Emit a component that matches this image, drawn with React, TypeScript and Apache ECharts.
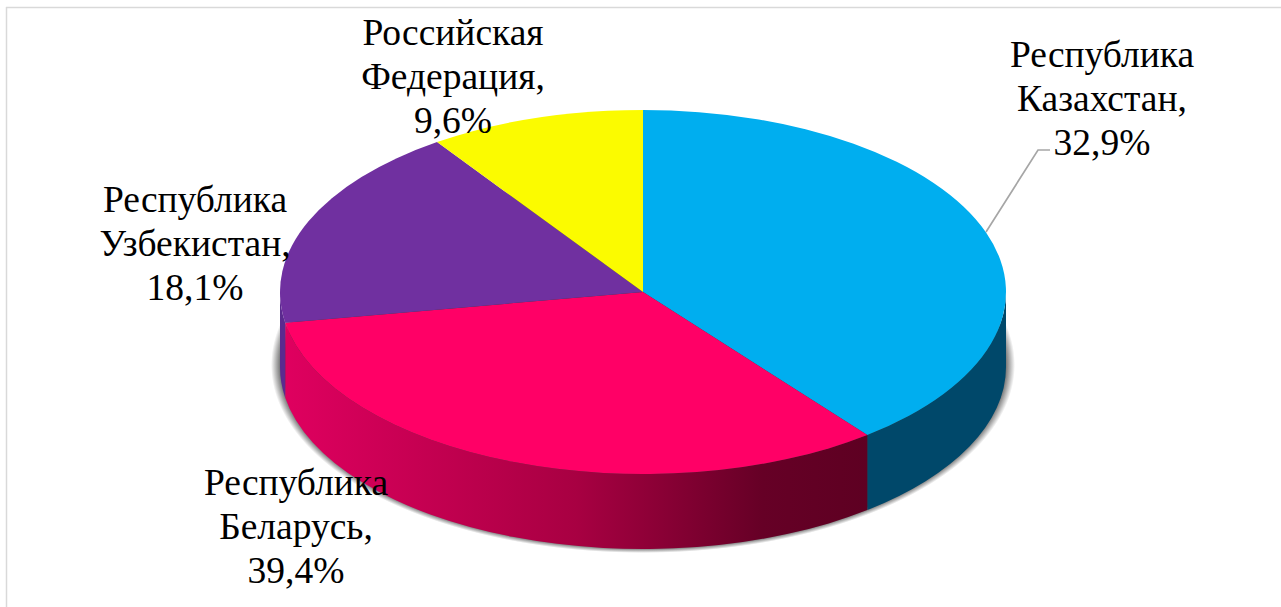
import React, { useEffect, useRef } from "react";
import * as echarts from "echarts";

// Drawn shares of the slices, clockwise from 12 o'clock
const sliceNames = ["Казахстан", "Беларусь", "Узбекистан", "Россия"];
const sliceShares = [39.4, 32.9, 18.1, 9.6];
const sliceColors = ["#00aeef", "#ff0066", "#7030a0", "#fbfb00"];
// Label texts exactly as printed in the picture
const labelTexts = [
  "Республика\nКазахстан,\n32,9%",
  "Республика\nБеларусь,\n39,4%",
  "Республика\nУзбекистан,\n18,1%",
  "Российская\nФедерация,\n9,6%",
];
const labelCenters = [
  [1102, 32],
  [296, 460],
  [195, 177],
  [453, 10],
];

const CX = 643;
const CY = 292;
const RX = 363;
const RY = 182;
const DEPTH = 75;
const TOTAL = sliceShares.reduce((a, b) => a + b, 0);

const pt = (deg: number, dy = 0) => {
  const r = (deg * Math.PI) / 180;
  return [CX + RX * Math.sin(r), CY + dy - RY * Math.cos(r)];
};

const bounds = (i: number) => {
  let acc = 0;
  for (let k = 0; k < i; k++) acc += sliceShares[k];
  return [(acc / TOTAL) * 360, ((acc + sliceShares[i]) / TOTAL) * 360];
};

const topPath = (a: number, b: number) => {
  const p = pt(a);
  const q = pt(b);
  const large = b - a > 180 ? 1 : 0;
  return `M${CX} ${CY}L${p[0]} ${p[1]}A${RX} ${RY} 0 ${large} 1 ${q[0]} ${q[1]}Z`;
};

const wallPath = (a0: number, b0: number) => {
  const a = Math.max(a0, 90);
  const b = Math.min(b0, 270);
  if (b <= a) return null;
  const p = pt(a);
  const q = pt(b);
  const q2 = pt(b, DEPTH);
  const p2 = pt(a, DEPTH);
  return `M${p[0]} ${p[1]}A${RX} ${RY} 0 0 1 ${q[0]} ${q[1]}L${q2[0]} ${q2[1]}A${RX} ${RY} 0 0 0 ${p2[0]} ${p2[1]}Z`;
};

const wallFill: any[] = [
  "#00486a",
  {
    type: "linear",
    x: 0,
    y: 0,
    x2: 1,
    y2: 0,
    colorStops: [
      { offset: 0, color: "#df005f" },
      { offset: 0.5, color: "#a80042" },
      { offset: 0.82, color: "#660026" },
      { offset: 1, color: "#5e0022" },
    ],
  },
  "#5b2a8f",
  "#8a8a00",
];

export default function App() {
  const ref = useRef<HTMLDivElement>(null);
  useEffect(() => {
    const chart = echarts.init(ref.current!, null, { renderer: "svg" });
    const data = sliceShares.map((v, i) => ({ name: sliceNames[i], value: v }));
    chart.setOption({
      animation: false,
      backgroundColor: "#ffffff",
      graphic: {
        elements: [
          { type: "line", z: 1, shape: { x1: 6.5, y1: 7, x2: 6.5, y2: 607 }, style: { stroke: "#d9d9d9", lineWidth: 1.5 } },
          { type: "line", z: 1, shape: { x1: 6, y1: 7.5, x2: 1281, y2: 7.5 }, style: { stroke: "#d9d9d9", lineWidth: 1.5 } },
          {
            type: "polyline",
            z: 20,
            shape: { points: [[986, 232], [1038, 150], [1050, 150]] },
            style: { stroke: "#a6a6a6", lineWidth: 1.7, fill: "none" },
          },
          ...labelTexts.map((t, i) => ({
            type: "text",
            z: 30,
            x: labelCenters[i][0],
            y: labelCenters[i][1],
            style: {
              text: t,
              fill: "#000000",
              font: '37.5px "Liberation Serif"',
              lineHeight: 44,
              align: "center",
              textAlign: "center",
            },
          })),
        ],
      },
      series: [
        {
          type: "custom",
          coordinateSystem: "none",
          silent: true,
          z: 2,
          data: [1],
          renderItem: () => ({
            type: "ellipse",
            shape: { cx: CX, cy: 365, rx: RX + 9, ry: 188 },
            style: {
              fill: {
                type: "radial",
                x: 0.5,
                y: 0.5,
                r: 0.5,
                colorStops: [
                  { offset: 0, color: "rgba(50,50,50,1)" },
                  { offset: 0.965, color: "rgba(50,50,50,0.95)" },
                  { offset: 1, color: "rgba(50,50,50,0)" },
                ],
              },
            },
          }),
        },
        {
          type: "custom",
          coordinateSystem: "none",
          silent: true,
          z: 3,
          data,
          renderItem: (params: any) => {
            const [a, b] = bounds(params.dataIndex);
            const d = wallPath(a, b);
            if (!d) return { type: "group", children: [] };
            return { type: "path", shape: { pathData: d }, style: { fill: wallFill[params.dataIndex] } };
          },
        },
        {
          type: "custom",
          coordinateSystem: "none",
          silent: true,
          z: 4,
          data,
          renderItem: (params: any) => {
            const [a, b] = bounds(params.dataIndex);
            return {
              type: "path",
              shape: { pathData: topPath(a, b) },
              style: { fill: sliceColors[params.dataIndex] },
            };
          },
        },
      ],
    });
    return () => chart.dispose();
  }, []);
  return <div ref={ref} style={{ position: "fixed", left: 0, top: 0, width: 1281, height: 607 }} />;
}
